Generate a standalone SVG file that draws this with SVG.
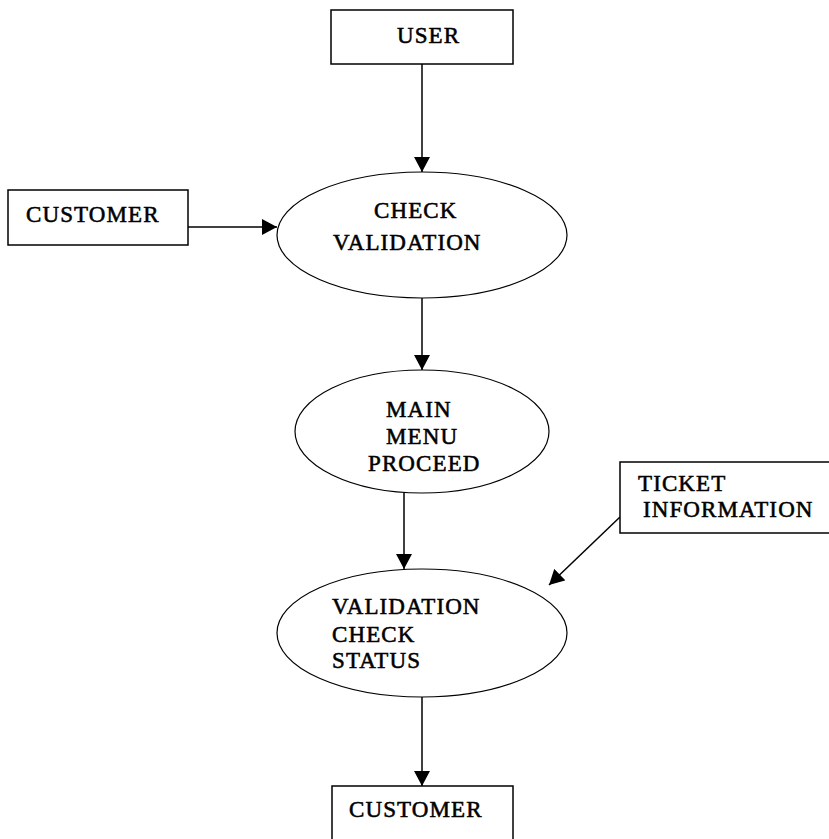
<svg xmlns="http://www.w3.org/2000/svg" width="829" height="839" viewBox="0 0 829 839">
<style>
.box{fill:#fff;stroke:#000;stroke-width:1.5}
.proc{fill:#fff;stroke:#000;stroke-width:1.2}
.lbl{font-family:"Liberation Serif","Times New Roman",serif;font-size:23px;letter-spacing:1.1px;fill:#000;stroke:#000;stroke-width:0.55}
.edge{fill:none;stroke:#000;stroke-width:1.5}
</style>
<defs>
<marker id="arr" viewBox="0 0 15 16" refX="15" refY="8" markerWidth="15" markerHeight="16" markerUnits="userSpaceOnUse" orient="auto">
<path d="M0,0 L15,8 L0,16 Z" fill="#000"/>
</marker>
</defs>
<rect width="829" height="839" fill="#fff"/>
<g id="connectors">
<line class="edge" x1="422" y1="64" x2="422" y2="172" marker-end="url(#arr)"/>
<line class="edge" x1="188" y1="227" x2="277" y2="227" marker-end="url(#arr)"/>
<line class="edge" x1="422" y1="298" x2="422" y2="370" marker-end="url(#arr)"/>
<line class="edge" x1="404" y1="493" x2="404" y2="569" marker-end="url(#arr)"/>
<line class="edge" x1="620" y1="517" x2="549" y2="585" marker-end="url(#arr)"/>
<line class="edge" x1="422" y1="697" x2="422" y2="786" marker-end="url(#arr)"/>
</g>
<g id="user">
<rect class="box" x="331" y="10" width="182" height="54"/>
<text class="lbl" x="397" y="43">USER</text>
</g>
<g id="customer-src">
<rect class="box" x="8" y="190" width="180" height="55"/>
<text class="lbl" x="26" y="222">CUSTOMER</text>
</g>
<g id="check-validation">
<ellipse class="proc" cx="422" cy="235" rx="145" ry="63"/>
<text class="lbl" x="374" y="218">CHECK</text>
<text class="lbl" x="333" y="250">VALIDATION</text>
</g>
<g id="main-menu">
<ellipse class="proc" cx="422" cy="431.5" rx="127" ry="61.5"/>
<text class="lbl" x="386" y="417">MAIN</text>
<text class="lbl" x="386" y="444">MENU</text>
<text class="lbl" x="368" y="471">PROCEED</text>
</g>
<g id="ticket-info">
<rect class="box" x="620" y="462" width="220" height="71"/>
<text class="lbl" x="638" y="491">TICKET</text>
<text class="lbl" x="643" y="517">INFORMATION</text>
</g>
<g id="validation-check-status">
<ellipse class="proc" cx="422" cy="633" rx="145" ry="64"/>
<text class="lbl" x="332" y="614">VALIDATION</text>
<text class="lbl" x="332" y="642">CHECK</text>
<text class="lbl" x="332" y="668">STATUS</text>
</g>
<g id="customer-dst">
<rect class="box" x="332" y="786" width="181" height="70"/>
<text class="lbl" x="349" y="817">CUSTOMER</text>
</g>
</svg>
